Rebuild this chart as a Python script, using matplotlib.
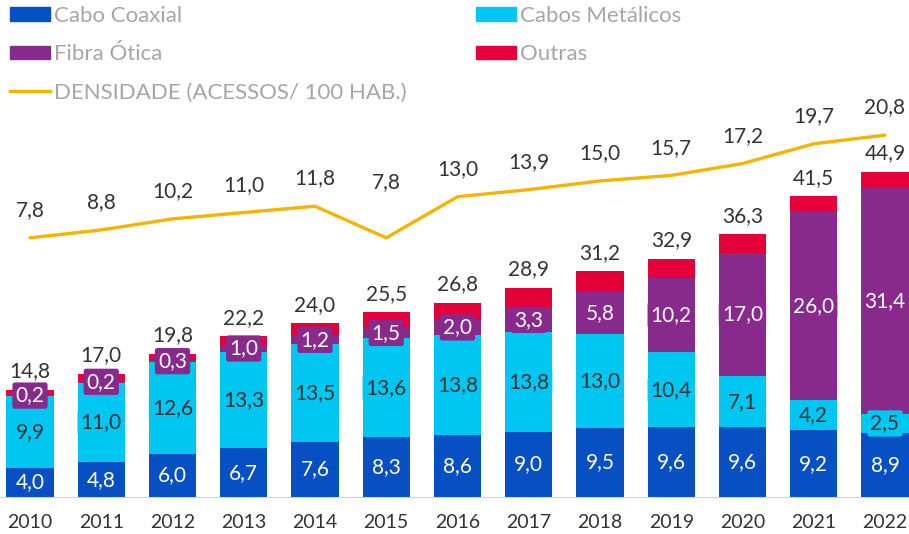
import numpy as np
import matplotlib
matplotlib.use('Agg')
import matplotlib.pyplot as plt
from matplotlib.patches import Patch
from matplotlib.lines import Line2D

plt.rcParams['font.family'] = ['Lato', 'DejaVu Sans']

years = ['2010', '2011', '2012', '2013', '2014', '2015', '2016',
         '2017', '2018', '2019', '2020', '2021', '2022']
coaxial = [4.0, 4.8, 6.0, 6.7, 7.6, 8.3, 8.6, 9.0, 9.5, 9.6, 9.6, 9.2, 8.9]
metalicos = [9.9, 11.0, 12.6, 13.3, 13.5, 13.6, 13.8, 13.8, 13.0, 10.4, 7.1, 4.2, 2.5]
fibra = [0.2, 0.2, 0.3, 1.0, 1.2, 1.5, 2.0, 3.3, 5.8, 10.2, 17.0, 26.0, 31.4]
totais = [14.8, 17.0, 19.8, 22.2, 24.0, 25.5, 26.8, 28.9, 31.2, 32.9, 36.3, 41.5, 44.9]
densidade = [7.8, 8.8, 10.2, 11.0, 11.8, 7.8, 13.0, 13.9, 15.0, 15.7, 17.2, 19.7, 20.8]

C_COAX = '#0650C4'
C_MET = '#00C6F2'
C_FIB = '#882A8C'
C_OUT = '#E6003A'
C_DENS = '#F5B400'
C_TXT = '#333333'
C_LEG = '#A6A6A6'


def fmt(v):
  return f'{v:.1f}'.replace('.', ',')


coaxial = np.array(coaxial)
metalicos = np.array(metalicos)
fibra = np.array(fibra)
totais = np.array(totais)
outras = totais - coaxial - metalicos - fibra
x = np.arange(len(years))
w = 0.66

fig = plt.figure(figsize=(9.09, 5.34), dpi=100)
ax = fig.add_axes([0, 37 / 534, 1, 497 / 534])
ax.set_xlim(-0.421, 12.337)
ax.set_ylim(0, 68.6)

ax.bar(x, coaxial, w, color=C_COAX)
ax.bar(x, metalicos, w, bottom=coaxial, color=C_MET)
ax.bar(x, fibra, w, bottom=coaxial + metalicos, color=C_FIB)
ax.bar(x, outras, w, bottom=coaxial + metalicos + fibra, color=C_OUT)

box = 'round,pad=0.15,rounding_size=0.12'
for i in x:
  ax.text(i, coaxial[i] / 2, fmt(coaxial[i]), ha='center', va='center',
          color='white', fontsize=15)
  ax.text(i, coaxial[i] + metalicos[i] / 2, fmt(metalicos[i]), ha='center',
          va='center', color=C_TXT, fontsize=15,
          bbox=dict(boxstyle=box, fc=C_MET, ec='none'))
  ax.text(i, coaxial[i] + metalicos[i] + fibra[i] / 2, fmt(fibra[i]),
          ha='center', va='center', color='white', fontsize=15,
          bbox=dict(boxstyle=box, fc=C_FIB, ec='none'))
  ax.annotate(fmt(totais[i]), (i, totais[i]), xytext=(0, 6),
              textcoords='offset points', ha='center', va='bottom',
              color=C_TXT, fontsize=15)

for s in ['top', 'right', 'left']:
  ax.spines[s].set_visible(False)
ax.spines['bottom'].set_color('#D0D0D0')
ax.set_yticks([])
ax.set_xticks(x)
ax.set_xticklabels(years, fontsize=14, color=C_TXT)
ax.tick_params(axis='x', length=0, pad=12)

ax2 = ax.twinx()
ax2.set_ylim(-25.0, 37.9)
ax2.plot(x, densidade, color=C_DENS, lw=2.4, solid_capstyle='round')
for i in x:
  off = 40 if (0 < i < len(x) - 1 and densidade[i] < densidade[i - 1]
               and densidade[i] < densidade[i + 1]) else 20
  ax2.annotate(fmt(densidade[i]), (i, densidade[i]), xytext=(0, off),
               textcoords='offset points', ha='center', va='center',
               color=C_TXT, fontsize=15)
ax2.axis('off')

handles = [Patch(color=C_COAX), Patch(color=C_FIB),
           Line2D([], [], color=C_DENS, lw=2.4),
           Patch(color=C_MET), Patch(color=C_OUT)]
labels = ['Cabo Coaxial', 'Fibra Ótica', 'DENSIDADE (ACESSOS/ 100 HAB.)',
          'Cabos Metálicos', 'Outras']
leg = fig.legend(handles, labels, loc='upper left',
                 bbox_to_anchor=(10 / 909, 1 - 6 / 534),
                 ncol=2, frameon=False, fontsize=16, handlelength=1.8,
                 handleheight=0.55, handletextpad=0.2, columnspacing=3.1,
                 labelspacing=0.82, borderaxespad=0, borderpad=0)
for t in leg.get_texts():
  t.set_color(C_LEG)

fig.savefig('out.png', dpi=100)
